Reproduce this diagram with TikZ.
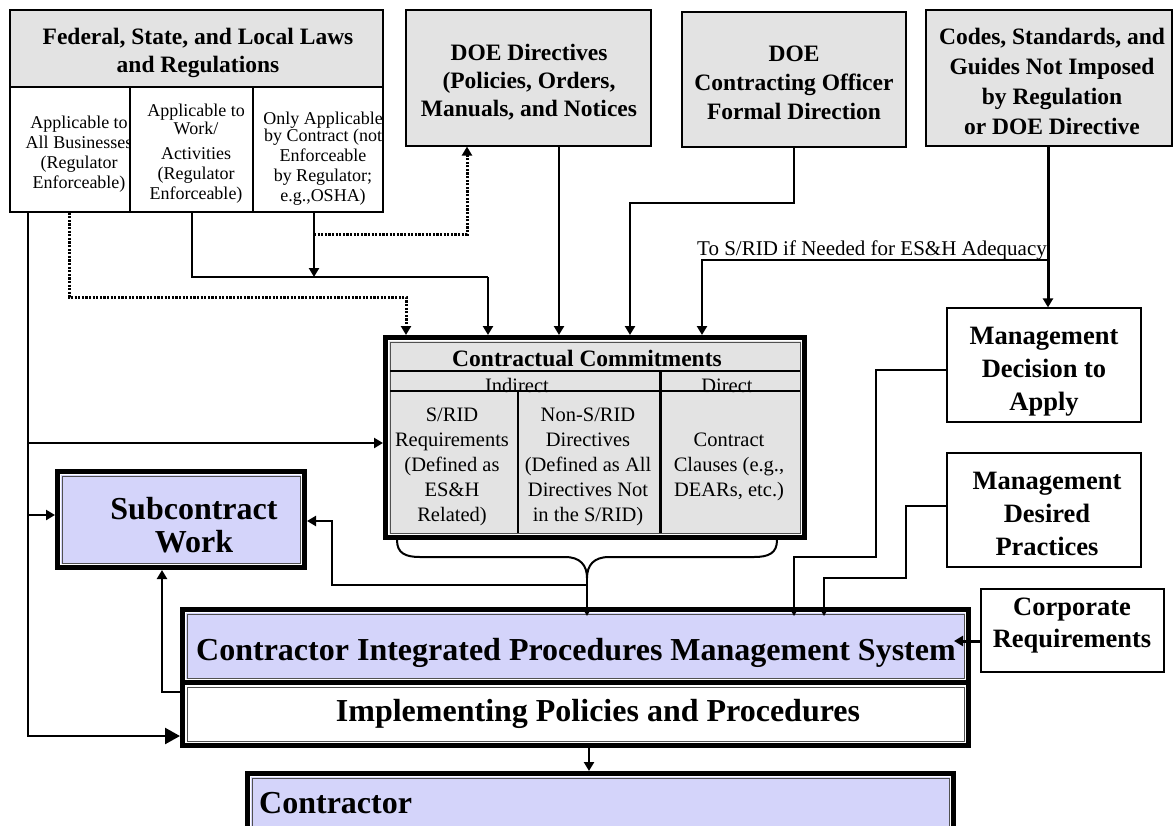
\documentclass[tikz,border=0pt]{standalone}
\usepackage{fontspec}
\setmainfont{Liberation Serif}
\usetikzlibrary{arrows.meta}

\definecolor{hdrgray}{RGB}{227,227,227}
\definecolor{boxblue}{RGB}{212,212,250}
\definecolor{framegray}{RGB}{80,80,80}

% plain box from its outer corners: style, name, x1, y1, x2, y2, text
\newcommand\boxnode[7]{%
  \node[#1, minimum width={#5-#3}, minimum height={#6-#4}] (#2) at ({(#3+#5)/2},{(#4+#6)/2}) {#7};}
% heavy double-framed box from its outer corners: fill, name, x1, y1, x2, y2
\newcommand\heavynode[6]{%
  \node[heavybox, fill=#1, minimum width={#5-#3-5}, minimum height={#6-#4-5}] (#2) at ({(#3+#5)/2},{(#4+#6)/2}) {};
  \draw[white, line width=1.2pt] ([shift={(5.6,5.6)}]#2.north west) rectangle ([shift={(-5.6,-5.6)}]#2.south east);
  \draw[innerframe] ([shift={(7,7)}]#2.north west) rectangle ([shift={(-7,-7)}]#2.south east);}

\tikzset{
  plainbox/.style={draw=black, line width=1.2pt, inner sep=0pt},
  graybox/.style={plainbox, fill=hdrgray},
  whitebox/.style={plainbox, fill=white},
  heavybox/.style={draw=black, line width=5pt, inner sep=0pt},
  innerframe/.style={draw=framegray, line width=1pt},
  link/.style={line width=2.5pt},
  conn/.style={line width=2.5pt, -{Triangle[length=9pt,width=10pt]}},
  bigconn/.style={line width=2.5pt, -{Triangle[length=15pt,width=16pt]}},
  dotlink/.style={line width=3pt, dash pattern=on 2.2pt off 1.4pt},
  dotconn/.style={dotlink, -{Triangle[length=9pt,width=10pt]}},
  cellfont/.style={font=\fontsize{18}{20}\selectfont, align=center, inner sep=0pt},
  ccfont/.style={font=\fontsize{20.5}{25}\selectfont, align=center, inner sep=0pt},
  headfont/.style={font=\fontsize{23.5}{#1}\selectfont\bfseries, align=center, inner sep=0pt},
  headfont/.default=28,
  mgmtfont/.style={font=\fontsize{26.5}{#1}\selectfont\bfseries, align=center, inner sep=0pt},
  mgmtfont/.default=33,
  bigfont/.style={font=\fontsize{32}{33}\selectfont\bfseries, align=center, inner sep=0pt},
}

\begin{document}
\begin{tikzpicture}[x=1pt,y=-1pt]
\useasboundingbox (0,0) rectangle (1174,825);
\fill[white] (0,0) rectangle (1174,825);
\clip (0,0) rectangle (1174,825);

% ---------- laws and regulations ----------
\boxnode{graybox}{fedhead}{10}{10}{383}{87}{}
\node[headfont] (fedtext) at (198,53) {Federal, State, and Local Laws\\and Regulations};
\boxnode{whitebox}{c1}{10}{87}{130}{212}{}
\boxnode{whitebox}{c2}{130}{87}{253}{212}{}
\boxnode{whitebox}{c3}{253}{87}{383}{212}{}
\begin{scope}
  \clip (c1.north west) rectangle (c1.south east);
  \node[cellfont] (c1text) at (79,154.5) {Applicable to\\All Businesses\\(Regulator\\Enforceable)};
\end{scope}
\node[cellfont] (c2text) at (196,153.5) {Applicable to\\[-2pt]Work/\\[5pt]Activities\\(Regulator\\Enforceable)};
\begin{scope}
  \clip (c3.north west) rectangle (c3.south east);
  \node[cellfont] (c3text) at (323,158.5) {Only Applicable\\[-3pt]by Contract (not\\Enforceable\\by Regulator;\\e.g.,OSHA)};
\end{scope}

% ---------- other sources ----------
\boxnode{graybox}{doe}{406}{10}{651}{146}{}
\node[headfont] (doetext) at (529,82) {DOE Directives\\(Policies, Orders,\\Manuals, and Notices};
\boxnode{graybox}{co}{682}{12}{906}{147}{}
\node[headfont=29] (cotext) at (794,83) {DOE\\Contracting Officer\\Formal Direction};
\boxnode{graybox}{codes}{926}{10}{1172}{146}{}
\node[headfont=30] (codestext) at (1052,81) {Codes, Standards, and\\Guides Not Imposed\\by Regulation\\or DOE Directive};

\boxnode{whitebox}{md}{947}{308}{1141}{422}{}
\node[mgmtfont] (mdtext) at (1044,372) {Management\\Decision to\\Apply};
\boxnode{whitebox}{mp}{947}{453}{1141}{567}{}
\node[mgmtfont] (mptext) at (1047,514) {Management\\Desired\\Practices};
\boxnode{whitebox}{corp}{981}{589}{1164}{672}{}
\node[mgmtfont=32] (corptext) at (1072,626) {Corporate\\Requirements};

% ---------- contractual commitments ----------
\heavynode{hdrgray}{cc}{383}{335}{807}{540}
\node[headfont, anchor=base] (cctitle) at (587,366) {Contractual Commitments};
\node[ccfont, anchor=base] (ccind) at (517,392) {Indirect};
\node[ccfont, anchor=base] (ccdir) at (727,392) {Direct};
\draw[line width=1.2pt] (390,371) -- (800,371);
\draw[line width=1.2pt] (390,391) -- (800,391);
\draw[line width=1.2pt] (518,391) -- (518,533);
\draw[line width=3pt] (660.5,371) -- (660.5,533);
\node[ccfont] (ccsrid) at (452,467) {S/RID\\Requirements\\(Defined as\\ES\&H\\Related)};
\node[ccfont] (ccnon) at (588,467) {Non-S/RID\\Directives\\(Defined as All\\Directives Not\\in the S/RID)};
\node[ccfont] (ccclause) at (729,467) {Contract\\Clauses (e.g.,\\DEARs, etc.)};

% ---------- contractor side ----------
\heavynode{boxblue}{sub}{55}{469}{307}{570}
\node[bigfont] (subtext) at (194,525) {Subcontract\\Work};
\heavynode{white}{impl}{180}{680}{971}{748}
\heavynode{boxblue}{cipms}{180}{607}{971}{685}
\node[bigfont, anchor=base] (cipmstext) at (576,660) {Contractor Integrated Procedures Management System};
\node[bigfont, anchor=base] (impltext) at (598,721) {Implementing Policies and Procedures};
\heavynode{boxblue}{contr}{245}{771}{956}{845}
\node[bigfont, anchor=base west] (contrtext) at (259,813) {Contractor};

% ---------- bend points ----------
\coordinate (L1) at (28,443);
\coordinate (L2) at (28,515);
\coordinate (L3) at (28,736);
\coordinate (D1) at (69,297);
\coordinate (D2) at (406,297);
\coordinate (W1) at (192,277);
\coordinate (W2) at (488,277);
\coordinate (O1) at (314,277);
\coordinate (O2) at (314,234);
\coordinate (O3) at (467,234);
\coordinate (P5) at (559,300);
\coordinate (Q1) at (794,203);
\coordinate (Q2) at (630,203);
\coordinate (R1) at (1048,260);
\coordinate (R2) at (702,260);
\coordinate (S1) at (876,370);
\coordinate (S2) at (876,557);
\coordinate (S3) at (794,557);
\coordinate (T1) at (906,506);
\coordinate (T2) at (906,578);
\coordinate (T3) at (824,578);
\coordinate (U1) at (975,641);
\coordinate (brtip) at (587,578);
\coordinate (V1) at (587,585);
\coordinate (V2) at (332,585);
\coordinate (V3) at (332,521);
\coordinate (Y1) at (162,692);
\coordinate (Z1) at (589,760);

% ---------- connectors ----------
\draw[bigconn] (c1.south -| L3) -- (L3) -- (L3 -| impl.west);
\draw[conn] (L1) -- (L1 -| cc.west);
\draw[conn] (L2) -- (L2 -| sub.west);
\draw[dotconn] (c1.south -| D1) -- (D1) -- (D2) -- (D2 |- cc.north);
\draw[link] (c2.south -| W1) -- (W1) -- (W2);
\draw[conn] (W2) -- (W2 |- cc.north);
\draw[conn] (c3.south -| O1) -- (O1);
\draw[dotconn] (O2) -- (O3) -- (O3 |- doe.south);
\draw[conn] (P5 |- doe.south) -- (P5 |- cc.north);
\draw[conn] (co.south -| Q1) -- (Q1) -- (Q2) -- (Q2 |- cc.north);
\draw[conn, line width=3pt] (R1 |- codes.south) -- (R1 |- md.north);
\draw[conn] (R1) -- (R2) -- (R2 |- cc.north);
\node[font=\fontsize{21}{21}\selectfont, anchor=base west, inner sep=0pt] (srid) at (697,255) {To S/RID if Needed for ES\&H Adequacy};
\draw[conn, line width=2pt, shorten >=-9pt] (S1 -| md.west) -- (S1) -- (S2) -- (S3) -- (S3 |- cipms.north);
\draw[conn, line width=2pt, shorten >=-9pt] (T1 -| mp.west) -- (T1) -- (T2) -- (T3) -- (T3 |- cipms.north);
\draw[conn, line width=3pt, shorten >=-17pt] (U1 -| corp.west) -- (U1 -| cipms.east);

% brace gathering the commitments
\draw[line width=2pt] (397,540) .. controls (397,553) and (405,557) .. (420,557) -- (565,557)
  .. controls (580,557) and (587,565) .. (brtip)
  .. controls (587,565) and (594,557) .. (609,557) -- (754,557)
  .. controls (769,557) and (777,553) .. (777,540);
\draw[conn, shorten >=-9pt] (brtip) -- (brtip |- cipms.north);
\draw[conn] (V1) -- (V2) -- (V3) -- (V3 -| sub.east);
\draw[conn] (Y1 -| impl.west) -- (Y1) -- (Y1 |- sub.south);
\draw[conn] (Z1 |- impl.south) -- (Z1 |- contr.north);
\end{tikzpicture}
\end{document}
